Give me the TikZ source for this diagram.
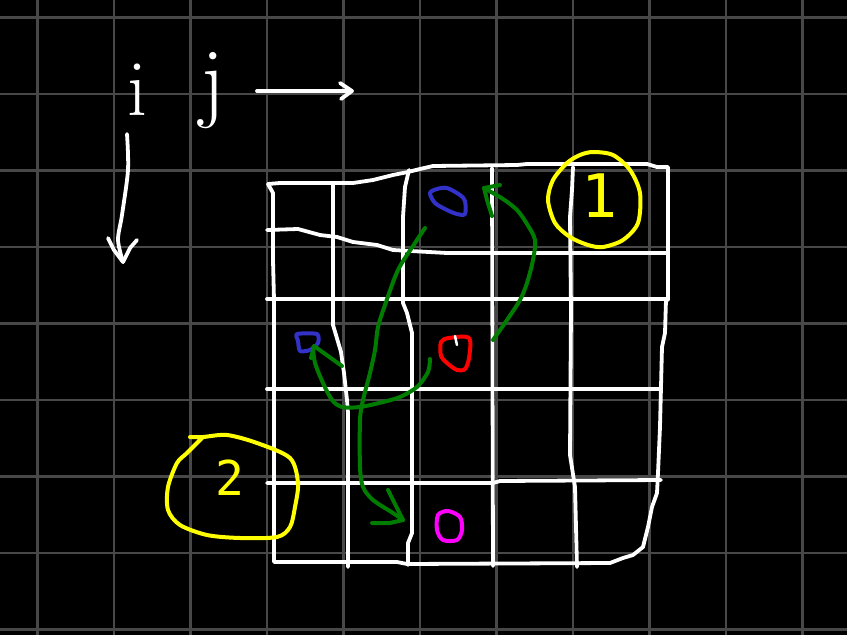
\documentclass[tikz,border=0pt]{standalone}
\usepackage{fontspec}
\newfontfamily\digitfont{DejaVu Sans Mono}
\definecolor{gridgray}{RGB}{72,72,72}
\definecolor{pgreen}{RGB}{0,125,0}
\definecolor{pblue}{RGB}{50,50,200}
\definecolor{pyellow}{RGB}{255,255,0}
\definecolor{pmagenta}{RGB}{255,0,255}
\begin{document}
\begin{tikzpicture}[x=1pt,y=-1pt,
  gridl/.style={gridgray, line width=2.5pt},
  wline/.style={white, line width=3.8pt, line cap=round, line join=round},
  gline/.style={pgreen, line width=4pt, line cap=round, line join=round},
  yline/.style={pyellow, line width=4pt, line cap=round, line join=round},
  bline/.style={pblue, line width=4pt, line cap=round, line join=round},
  rline/.style={red, line width=4pt, line cap=round, line join=round},
  mline/.style={pmagenta, line width=4pt, line cap=round, line join=round},
  lbl/.style={inner sep=0pt, anchor=base}]
\fill[black] (0,0) rectangle (847,635);
\useasboundingbox (0,0) rectangle (847,635);
% background grid
\foreach \k in {0,...,10} \draw[gridl] ({37.5+76.5*\k},0) -- ({37.5+76.5*\k},635);
\foreach \k in {0,...,8} \draw[gridl] (0,{17.5+76.5*\k}) -- (847,{17.5+76.5*\k});

% labels i, j
\node[lbl, text=white, font=\fontsize{80}{80}\selectfont] (ilabel) at (137,115) {i};
\node[lbl, text=white, font=\fontsize{90}{90}\selectfont] (jlabel) at (213,110) {j};
% j direction arrow
\draw[wline] (257,91) -- (351,91);
\draw[wline] (340,83) -- (352,91) -- (341,99);
% i direction arrow
\draw[wline] plot[smooth] coordinates {(127,134) (128,170) (122,215) (118,240) (123,262)};
\draw[wline] (108,238) -- (114,250) -- (123,262) -- (130,248) -- (137,240);

% hand-drawn table
\draw[wline] (268,184) -- (280,183) -- (333,183) -- (353,183) -- (373,180) -- (393,175) -- (408,172) -- (420,169) -- (433,166) -- (517,165) -- (527,164) -- (647,164) -- (657,167) -- (668,167) -- (668,300);
\draw[wline] (268,184) -- (273,193) -- (273,260) -- (274,300) -- (274,562) -- (397,562) -- (407,564) -- (610,563) -- (623,558) -- (633,555) -- (643,547) -- (648,527) -- (652,507) -- (657,493) -- (658,473) -- (660,427) -- (662,347) -- (665,333) -- (666,300);
\draw[wline] (267,230) -- (298,229) -- (320,235) -- (337,237) -- (353,242) -- (377,245) -- (393,250) -- (447,253) -- (668,253);
\draw[wline] (267,299) -- (668,299);
\draw[wline] (267,389) -- (661,389);
\draw[wline] (267,483) -- (493,483) -- (500,481) -- (661,480);
\draw[wline] (333,183) -- (333,325) -- (336,335) -- (341,352) -- (344,373) -- (347,400) -- (348,413) -- (348,567);
\draw[wline] (409,170) -- (405,187) -- (403,217) -- (403,303) -- (407,313) -- (412,333) -- (412,533) -- (408,543) -- (408,565);
\draw[wline] (492,168) -- (493,566);
\draw[wline] (573,167) -- (572,190) -- (570,217) -- (571,310) -- (570,455) -- (575,487) -- (577,567);

% circled 1
\draw[yline] plot[smooth cycle] coordinates {(593,152) (613,155) (630,170) (640,193) (638,223) (623,240) (603,247) (588,245) (570,237) (555,223) (548,200) (553,180) (567,163) (580,155)};
\node[lbl, text=pyellow, font=\digitfont\fontsize{60}{60}\selectfont] (one) at (600,217) {1};
% circled 2
\draw[yline] plot[smooth] coordinates {(190,437) (203,437) (227,435) (257,443) (290,458) (298,483) (295,507) (290,527) (277,537) (240,538) (207,535) (180,525) (168,510) (168,487) (177,463) (187,453) (203,437)};
\node[lbl, text=pyellow, font=\digitfont\fontsize{48}{48}\selectfont] (two) at (230,495) {2};

% marks
\draw[bline] plot[smooth cycle] coordinates {(430,193) (437,189) (447,188) (460,195) (465,201) (465,214) (457,214) (447,210) (435,203)};
\draw[bline] plot[smooth cycle, tension=0.4] coordinates {(297,334) (317,334) (318,343) (310,350) (300,351) (298,341)};
\draw[rline] plot[smooth cycle, tension=0.5] coordinates {(441,342) (449,338) (469,338) (469,358) (465,369) (457,370) (447,363) (441,356)};
\draw[wline, line width=2.5pt] (455,336) -- (457,345);
\draw[mline] plot[smooth cycle] coordinates {(448,511) (460,517) (462,530) (457,540) (443,540) (437,530) (438,515)};

% green arrows
\draw[gline] plot[smooth] coordinates {(425,228) (415,243) (398,270) (385,305) (378,327) (375,350) (370,373) (363,400) (360,420) (360,467) (363,487) (373,500) (393,513) (403,520)};
\draw[gline] (388,490) -- (396,506) -- (403,520) -- (390,523) -- (372,523);
\draw[gline] plot[smooth] coordinates {(430,359) (428,372) (417,387) (400,397) (383,402) (360,407) (342,407) (332,400) (323,383) (315,363) (313,348)};
\draw[gline] (311,358) -- (314,346) -- (342,366);
\draw[gline] plot[smooth] coordinates {(493,340) (507,320) (520,300) (527,283) (533,260) (535,240) (527,224) (517,210) (503,199) (484,188)};
\draw[gline] (500,185) -- (484,188) -- (487,200) -- (492,216);
\end{tikzpicture}
\end{document}
